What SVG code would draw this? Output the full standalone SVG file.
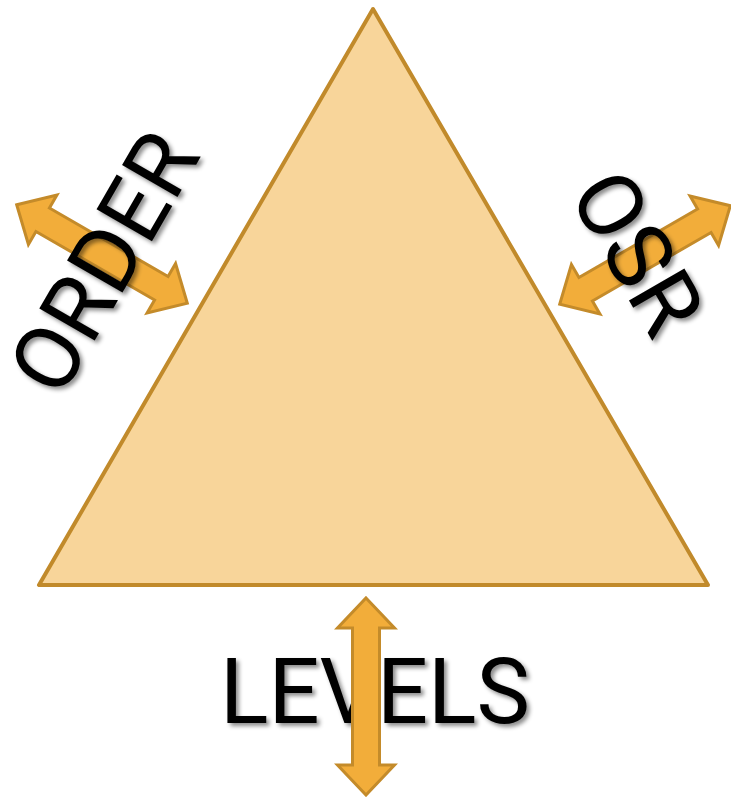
<svg xmlns="http://www.w3.org/2000/svg" width="731" height="797" viewBox="0 0 731 797">
<defs>
<filter id="sh" x="-20%" y="-20%" width="140%" height="140%">
<feDropShadow dx="3" dy="3" stdDeviation="2" flood-color="#000" flood-opacity="0.45"/>
</filter>
<path id="arr" d="M -98.5 0 L -68.5 -28.5 L -68.5 -13.5 L 68.5 -13.5 L 68.5 -28.5 L 98.5 0 L 68.5 28.5 L 68.5 13.5 L -68.5 13.5 L -68.5 28.5 Z"/>
</defs>
<style>
.lbl{font-family:Roboto,"Liberation Sans",sans-serif;font-size:90px;fill:#000;text-anchor:middle}
.arrow{fill:#F2AD3A;stroke:#C48B2A;stroke-width:3;stroke-linejoin:miter}
</style>
<rect width="731" height="797" fill="#fff"/>
<g id="triangle">
<polygon points="373,9 39,585 708,585" fill="#F8D59A" stroke="#C18A2B" stroke-width="4" stroke-linejoin="round"/>
</g>
<g id="levels" filter="url(#sh)">
<text class="lbl" x="375" y="723">LEVELS</text>
</g>
<g id="connectors">
<use href="#arr" class="arrow" transform="translate(102,254) rotate(30)"/>
<use href="#arr" class="arrow" transform="translate(645,255) rotate(-30)"/>
<use href="#arr" class="arrow" transform="translate(366,696.5) rotate(90)"/>
</g>
<g id="order" filter="url(#sh)">
<g transform="translate(103,262) rotate(-60)"><text class="lbl" x="0" y="32">ORDER</text></g>
</g>
<g id="osr" filter="url(#sh)">
<g transform="translate(638,252) rotate(60)"><text class="lbl" x="0" y="32">OSR</text></g>
</g>
</svg>
